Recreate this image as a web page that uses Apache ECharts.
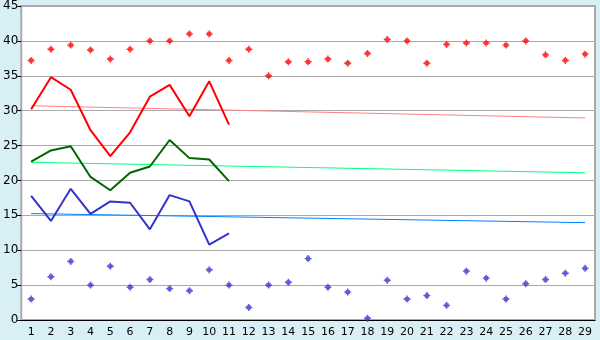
<!DOCTYPE html>
<html><head><meta charset="utf-8">
<script src="https://cdn.jsdelivr.net/npm/echarts@6/dist/echarts.min.js"></script>
<style>html,body{margin:0;padding:0;background:#d9eff6;}#c{width:600px;height:340px;}</style>
</head><body><div id="c"></div>
<script>
var days = ['1','2','3','4','5','6','7','8','9','10','11','12','13','14','15','16','17','18','19','20','21','22','23','24','25','26','27','28','29'];
var yTicks = [0,5,10,15,20,25,30,35,40,45];
var maxPoints = [37.2,38.8,39.4,38.7,37.4,38.8,40.0,40.0,41.0,41.0,37.2,38.8,35.0,37.0,37.0,37.4,36.8,38.2,40.2,40.0,36.8,39.5,39.7,39.7,39.4,40.0,38.0,37.2,38.1];
var minPoints = [3.0,6.2,8.4,5.0,7.7,4.7,5.8,4.5,4.2,7.2,5.0,1.8,5.0,5.4,8.8,4.7,4.0,0.25,5.7,3.0,3.5,2.1,7.0,6.0,3.0,5.2,5.8,6.7,7.4];
var redLine = [30.2,34.8,33.0,27.2,23.5,26.9,32.0,33.7,29.2,34.2,28.0];
var greenLine = [22.7,24.3,24.9,20.5,18.6,21.1,22.0,25.8,23.2,23.0,19.9];
var blueLine = [17.8,14.2,18.8,15.2,17.0,16.8,13.0,17.9,17.0,10.8,12.4];
var redTrend = [30.7, 28.95];
var greenTrend = [22.6, 21.1];
var blueTrend = [15.25, 13.95];

function endpoints(pair){
  var a = days.map(function(){return null;});
  a[0] = pair[0]; a[days.length-1] = pair[1];
  return a;
}
var plus = 'path://M2,0H3V1H4V2H5V3H4V4H3V5H2V4H1V3H0V2H1V1H2Z';
var chart = echarts.init(document.getElementById('c'));
chart.setOption({
  backgroundColor: '#d9eff6',
  animation: false,
  textStyle: {fontFamily: 'DejaVu Sans'},
  grid: {left: 20, right: 5, top: 5, bottom: 20, show: true, backgroundColor: '#ffffff', borderColor: '#aaaaaa', borderWidth: 2},
  xAxis: {
    type: 'category', data: days, boundaryGap: true,
    axisLine: {lineStyle: {color: '#000', width: 1}},
    axisTick: {alignWithLabel: true, interval: 0, length: 5, lineStyle: {color: '#000'}},
    axisLabel: {color: '#000', fontSize: 11, margin: 7, interval: 0},
    splitLine: {show: false}
  },
  yAxis: {
    type: 'value', min: yTicks[0], max: yTicks[yTicks.length-1], interval: 5,
    axisLine: {show: true, lineStyle: {color: '#aaaaaa', width: 1}},
    axisTick: {show: true, length: 4, lineStyle: {color: '#000'}},
    axisLabel: {color: '#000', fontSize: 12, margin: 3},
    splitLine: {lineStyle: {color: '#aaaaaa', width: 1}}
  },
  series: [
    {type: 'line', data: endpoints(redTrend), connectNulls: true, symbol: 'none', lineStyle: {color: '#ff8080', width: 1}, z: 2},
    {type: 'line', data: endpoints(greenTrend), connectNulls: true, symbol: 'none', lineStyle: {color: '#00ff80', width: 1}, z: 2},
    {type: 'line', data: endpoints(blueTrend), connectNulls: true, symbol: 'none', lineStyle: {color: '#0080ff', width: 1}, z: 2},
    {type: 'line', data: redLine, symbol: 'none', lineStyle: {color: '#ff0000', width: 2}, z: 3},
    {type: 'line', data: greenLine, symbol: 'none', lineStyle: {color: '#006600', width: 2}, z: 3},
    {type: 'line', data: blueLine, symbol: 'none', lineStyle: {color: '#3333cc', width: 2}, z: 3},
    {type: 'scatter', data: maxPoints, symbol: plus, symbolSize: 7, itemStyle: {color: '#ff0000'}, z: 4},
    {type: 'scatter', data: minPoints, symbol: plus, symbolSize: 7, itemStyle: {color: '#3333cc'}, z: 4}
  ]
});
</script></body></html>
